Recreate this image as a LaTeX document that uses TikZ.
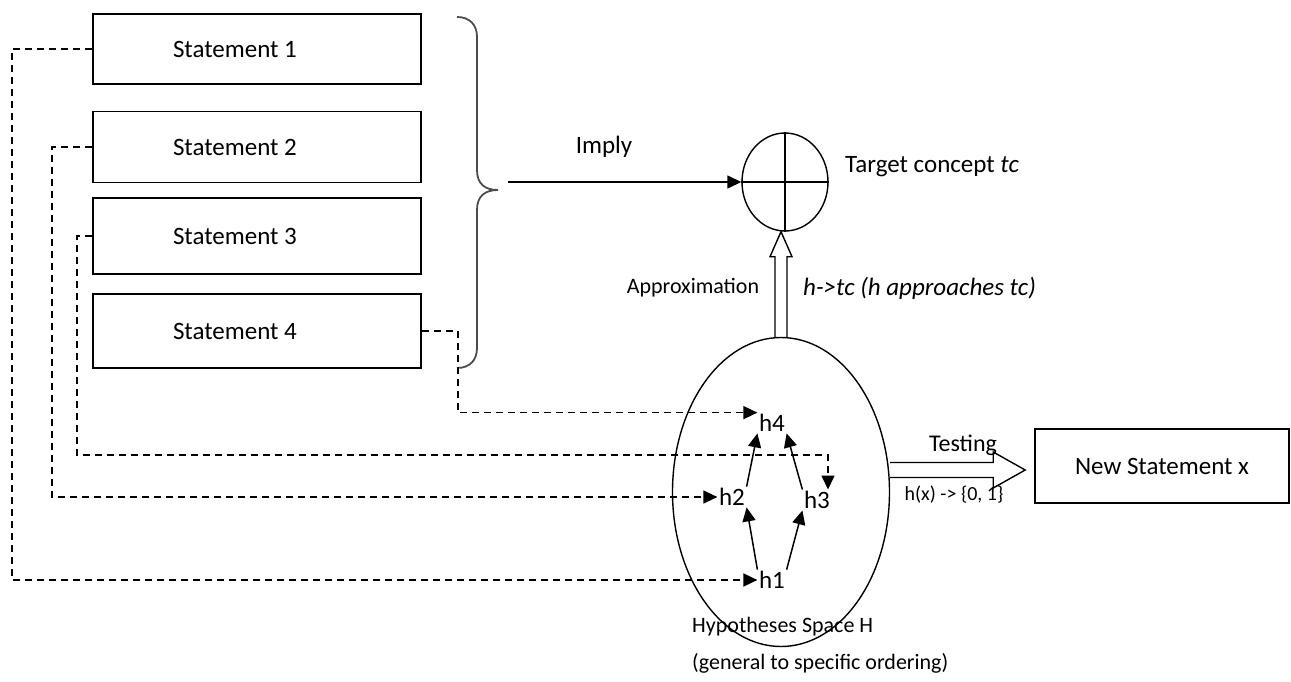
\documentclass[tikz,border=0pt]{standalone}
\usepackage{fontspec}
\setmainfont{Carlito}
\usetikzlibrary{arrows.meta,calc,shapes.geometric}
\begin{document}
\begin{tikzpicture}[x=1pt,y=-1pt,
  stmtbox/.style={draw,line width=1.8pt,minimum width=328pt,inner xsep=8pt,font=\fontsize{25}{30}\selectfont},
  hyp/.style={inner sep=1.5pt,font=\fontsize{25}{28}\selectfont},
  lbl/.style={inner sep=0pt,font=\fontsize{25}{30}\selectfont},
  smlbl/.style={inner sep=0pt,font=\fontsize{22}{26}\selectfont},
  dashcon/.style={line width=1.5pt,dash pattern=on 7pt off 5pt,-{Triangle[length=14pt,width=13pt]}},
  solidcon/.style={line width=1.5pt,-{Triangle[length=14pt,width=13pt]}},
  outl/.style={line width=1.4pt,line join=miter},
  ]
\useasboundingbox (0,0) rectangle (1291,682);

% statements
\node[stmtbox,minimum height=70pt] (s1) at (257,49) {\makebox[312pt][l]{\hspace{72pt}Statement 1}};
\node[stmtbox,minimum height=71pt] (s2) at (257,147) {\makebox[312pt][l]{\hspace{72pt}Statement 2}};
\node[stmtbox,minimum height=76pt] (s3) at (257,236) {\makebox[312pt][l]{\hspace{72pt}Statement 3}};
\node[stmtbox,minimum height=74pt] (s4) at (257,331) {\makebox[312pt][l]{\hspace{72pt}Statement 4}};

% brace
\draw[line width=1.8pt,black!70] (457,17) .. controls (470,17) and (477,25) .. (477,37) -- (477,170)
  .. controls (477,184) and (485,190) .. (498,190) .. controls (485,190) and (477,196) .. (477,210)
  -- (477,348) .. controls (477,360) and (470,368) .. (457,368);

% target concept
\node[draw,ellipse,line width=1.4pt,minimum width=86pt,minimum height=98pt,inner sep=0pt] (T) at (785,182) {};
\draw[line width=1.4pt] (T.north) -- (T.south) (T.west) -- (T.east);
\coordinate (imp) at (508,182);
\draw[solidcon] (imp) -- (T.west);
\node[lbl] (imply) at (604,147) {Imply};
\node[lbl,anchor=west] (tcl) at (845,167) {Target concept \textit{tc}};

% hypotheses space
\node[draw,ellipse,line width=1.4pt,minimum width=217pt,minimum height=309pt,inner sep=0pt] (E) at (781,492) {};
\node[hyp] (h4) at (772,423) {h4};
\node[hyp] (h2) at (732,497) {h2};
\node[hyp] (h3) at (817,500) {h3};
\node[hyp] (h1) at (772,580) {h1};
\draw[solidcon] (h2.north east) -- (h4.south west);
\draw[solidcon] (h3.north west) -- (h4.south east);
\draw[solidcon] (h1.north west) -- (h2.south east);
\draw[solidcon] (h1.north east) -- (h3.south west);

\node[smlbl,anchor=west] (hs) at (692,627) {Hypotheses Space H};
\node[smlbl,anchor=west] (go) at (692,663) {(general to specific ordering)};

% dashed connectors
\draw[dashcon] (s1.west) -- ++(-80,0) |- (h1.west);
\draw[dashcon] (s2.west) -- ++(-40,0) |- (h2.west);
\coordinate (c3) at (828,455);
\draw[dashcon] (s3.west) -- ++(-15,0) |- (c3) -- (c3 |- h3.north);
\draw[dashcon] (s4.east) -- ++(36,0) |- (h4.north west);

% approximation arrow
\draw[outl] ($(E.north)+(-6,0)$) -- ($(E.north|-T.south)+(-6,25)$) -- ($(E.north|-T.south)+(-11,25)$)
  -- (E.north|-T.south) -- ($(E.north|-T.south)+(11,25)$) -- ($(E.north|-T.south)+(6,25)$) -- ($(E.north)+(6,0)$);
\node[smlbl] (appr) at (693,288) {Approximation};
\node[lbl,anchor=west,font=\fontsize{25}{30}\selectfont\itshape] (happ) at (803,288) {h->tc (h approaches tc)};

% testing arrow
\node[draw,line width=1.8pt,minimum width=254pt,minimum height=74pt,font=\fontsize{25}{30}\selectfont] (N) at (1162,466) {New Statement x};
\coordinate (ta) at ($(E.east)+(0,-22)$);
\draw[outl] ($(ta)+(0,-7.5)$) -- ($(ta)+(103,-7.5)$) -- ($(ta)+(103,-18)$) -- ($(ta)+(135,0)$)
  -- ($(ta)+(103,18)$) -- ($(ta)+(103,7.5)$) -- ($(ta)+(0,7.5)$);
\node[lbl,font=\fontsize{24}{28}\selectfont] (test) at (963,445) {Testing};
\node[lbl,font=\fontsize{20}{24}\selectfont] (hx) at (954,495) {h(x) -> \{0, 1\}};
\end{tikzpicture}
\end{document}
